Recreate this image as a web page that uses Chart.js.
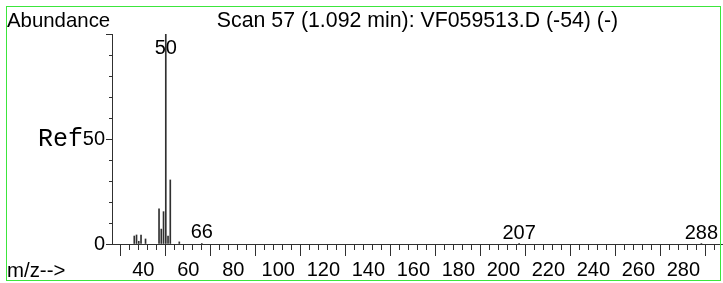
<!DOCTYPE html>
<html>
<head>
<meta charset="utf-8">
<script src="https://cdn.jsdelivr.net/npm/chart.js@4.4.1/dist/chart.umd.min.js"></script>
<style>
  html, body { margin: 0; padding: 0; background: #fff; }
  #wrap { width: 723px; height: 283px; }
</style>
</head>
<body>
<div id="wrap"><canvas id="spec"></canvas></div>
<script>
// spectrum data (m/z, relative abundance)
const mz        = [36, 37, 38, 39, 41, 47, 48, 49, 50, 51, 52, 56, 66, 207, 288];
const abundance = [3.8, 4.3, 1.3, 4.3, 2.4, 16.7, 7.1, 15.4, 100, 3.8, 30.5, 1.0, 0.3, 0.2, 0.2];
const labelledMz = [50, 66, 207, 288];
const yLabelled = [0, 50];

const title = 'Scan 57 (1.092 min): VF059513.D (-54) (-)';
const ink = '#303030';
const sans = '"Liberation Sans", Arial, sans-serif';

const points = mz.map((m, i) => ({ x: m, y: abundance[i] }));

function fixHeight(h) {
    return function (scale) { scale.height = h; scale.paddingLeft = 0; scale.paddingRight = 0; };
}
function fixWidth(w) {
    return function (scale) { scale.width = w; scale.paddingTop = 0; scale.paddingBottom = 0; };
}

// frame, headings and peak labels
const textPlugin = {
    id: 'texts',
    afterDraw(chart) {
        const c = chart.ctx;
        const area = chart.chartArea;
        const xs = chart.scales.x;
        const ys = chart.scales.y;
        c.save();
        c.strokeStyle = '#3ce63c';
        c.lineWidth = 1;
        c.strokeRect(6.5, 6.5, 714, 274);

        c.fillStyle = '#000';
        c.font = '20.4px ' + sans;
        c.textBaseline = 'alphabetic';
        c.textAlign = 'left';
        c.fillText('Abundance', 7, 27);
        c.fillText('m/z-->', 7, 277);

        c.textAlign = 'center';
        c.font = '21.3px ' + sans;
        c.fillText(title, (area.left + area.right) / 2, 27);

        c.font = '20px ' + sans;
        labelledMz.forEach(m => {
            const v = abundance[mz.indexOf(m)];
            let y = ys.getPixelForValue(v) - 5;
            if (y < area.top + 20) y = area.top + 20;
            c.fillText(String(m), xs.getPixelForValue(m), y);
        });

        c.textAlign = 'left';
        c.font = '25px "Liberation Mono", "Courier New", monospace';
        c.fillText('Ref', 38, ys.getPixelForValue(50) + 7);
        c.restore();
    }
};

new Chart(document.getElementById('spec'), {
    type: 'bar',
    data: {
        datasets: [{
            data: points,
            xAxisID: 'x',
            yAxisID: 'y',
            backgroundColor: ink,
            borderWidth: 0,
            barThickness: 1
        }]
    },
    options: {
        responsive: true,
        maintainAspectRatio: false,
        animation: false,
        devicePixelRatio: 1,
        layout: { padding: { top: 34, right: 0, bottom: 0, left: 0 } },
        plugins: { legend: { display: false }, tooltip: { enabled: false } },
        scales: {
            x: {
                type: 'linear', position: 'bottom', min: 26.1, max: 297.6, offset: false,
                weight: 1,
                border: { color: ink, width: 1 },
                grid: { drawOnChartArea: false, tickLength: 12, tickColor: ink },
                ticks: {
                    stepSize: 20, autoSkip: false, includeBounds: false, maxRotation: 0,
                    padding: 2, color: '#000', font: { family: sans, size: 20 }
                },
                afterFit: fixHeight(39)
            },
            xMinor: {
                type: 'linear', position: 'bottom', min: 26.1, max: 297.6, offset: false,
                weight: -1,
                border: { color: ink, width: 1 },
                grid: { drawOnChartArea: false, tickLength: 6, tickColor: ink },
                ticks: { stepSize: 4, autoSkip: false, includeBounds: false, display: false },
                afterFit: fixHeight(0)
            },
            y: {
                type: 'linear', position: 'left', min: 0, max: 100,
                weight: 1,
                border: { color: ink, width: 1 },
                grid: { drawOnChartArea: false, tickLength: 6, tickColor: ink },
                ticks: {
                    stepSize: 50, includeBounds: false, padding: 1, color: '#000',
                    font: { family: sans, size: 20 },
                    callback: v => yLabelled.includes(v) ? String(v) : ''
                },
                afterFit: fixWidth(112)
            },
            yMinor: {
                type: 'linear', position: 'left', min: 0, max: 100,
                weight: -1,
                border: { color: ink, width: 1 },
                grid: { drawOnChartArea: false, tickLength: 3, tickColor: ink },
                ticks: { stepSize: 10, display: false },
                afterFit: fixWidth(0)
            }
        }
    },
    plugins: [textPlugin]
});
</script>
</body>
</html>
